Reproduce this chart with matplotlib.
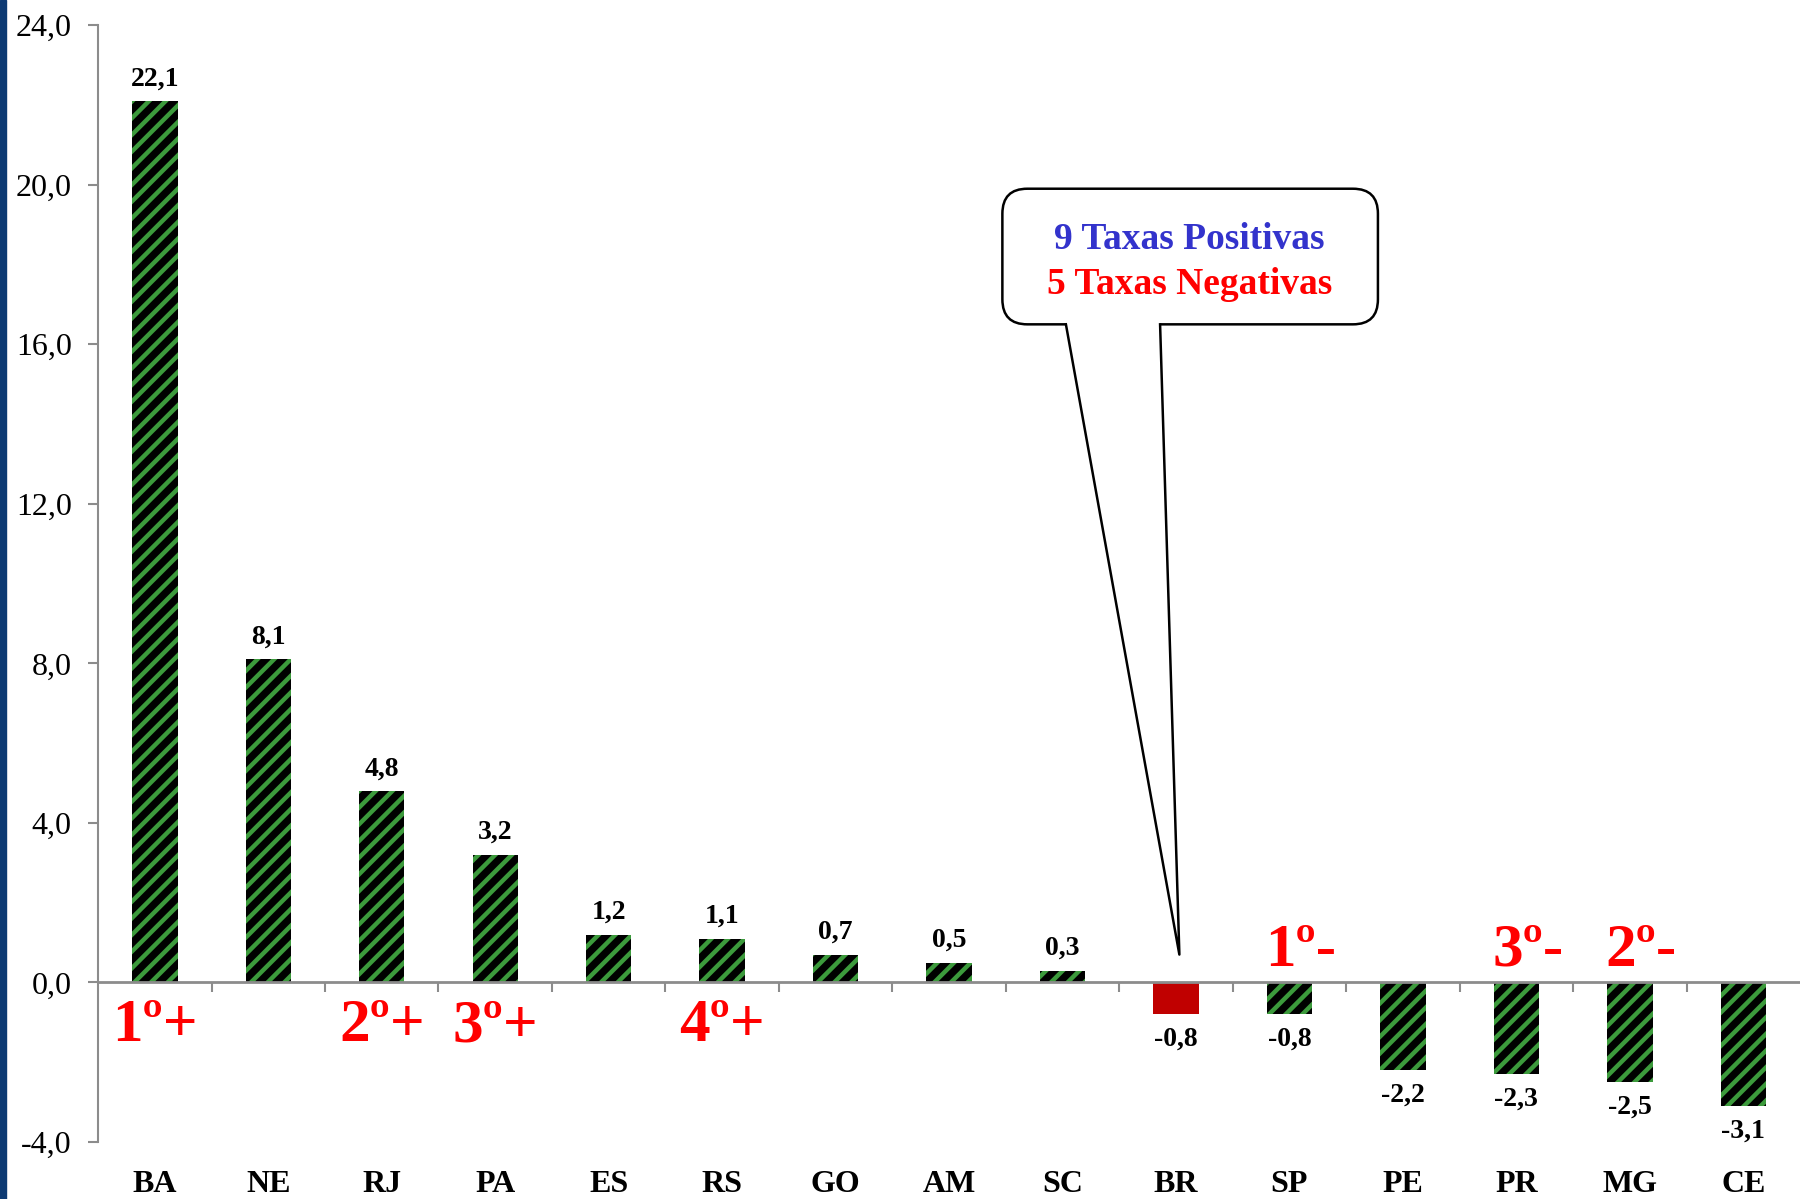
import matplotlib
matplotlib.use("Agg")
import matplotlib.pyplot as plt
from matplotlib.patches import FancyBboxPatch, Polygon, Rectangle
from matplotlib.transforms import blended_transform_factory

# data
estados = ["BA", "NE", "RJ", "PA", "ES", "RS", "GO", "AM", "SC", "BR", "SP", "PE", "PR", "MG", "CE"]
taxas = [22.1, 8.1, 4.8, 3.2, 1.2, 1.1, 0.7, 0.5, 0.3, -0.8, -0.8, -2.2, -2.3, -2.5, -3.1]
ranking = {"BA": "1º+", "RJ": "2º+", "PA": "3º+", "RS": "4º+",
           "SP": "1º-", "PR": "3º-", "MG": "2º-"}
yticks = [-4, 0, 4, 8, 12, 16, 20, 24]

plt.rcParams["font.family"] = ["Liberation Serif", "DejaVu Serif"]
plt.rcParams["hatch.linewidth"] = 3.2

verde = "#3c9a3c"
cinza = "#8c8c8c"

fig = plt.figure(figsize=(18, 11.99), dpi=100)
ax = fig.add_axes([0.0545, 0.0475, 0.9455, 0.9315])

x = list(range(len(estados)))
for i, (uf, v) in enumerate(zip(estados, taxas)):
    if uf == "BR":
        ax.bar(i, v, width=0.4, color="#c00000", linewidth=0, zorder=2)
    else:
        ax.bar(i, v, width=0.4, facecolor="black", edgecolor=verde,
               hatch="//", linewidth=0, zorder=2)
    txt = f"{v:.1f}".replace(".", ",")
    if v >= 0:
        ax.annotate(txt, (i, v), xytext=(0, 7), textcoords="offset points",
                    ha="center", va="bottom", fontsize=20, fontweight="bold")
    else:
        ax.annotate(txt, (i, v), xytext=(0, -9), textcoords="offset points",
                    ha="center", va="top", fontsize=20, fontweight="bold")

# ranking labels
for i, uf in enumerate(estados):
    if uf in ranking:
        lab = ranking[uf]
        yy = -1.1 if lab.endswith("+") else 0.8
        ax.text(i + (0.1 if lab.endswith("-") else 0), yy, lab, ha="center", va="center",
                fontsize=44, fontweight="bold", color="#ff0000")

# category labels at bottom
trans = blended_transform_factory(ax.transData, ax.transAxes)
for i, uf in enumerate(estados):
    ax.text(i, -0.038, uf, transform=trans, ha="center", va="center",
            fontsize=23, fontweight="bold")

ax.set_xlim(-0.5, len(estados) - 0.5)
ax.set_ylim(-4, 24)
ax.set_yticks(yticks)
ax.set_yticklabels([f"{t:.1f}".replace(".", ",") for t in yticks], fontsize=23)
ax.set_xticks([])
ax.set_xticks([i + 0.5 for i in x[:-1]], minor=True)
ax.tick_params(axis="x", which="minor", direction="out", length=7, width=1.5, color=cinza)
ax.tick_params(axis="y", direction="out", length=7, width=1.5, color=cinza, pad=12)

for s in ["top", "right"]:
    ax.spines[s].set_visible(False)
ax.spines["bottom"].set_position(("data", 0))
ax.spines["bottom"].set_color(cinza)
ax.spines["bottom"].set_linewidth(2)
ax.spines["left"].set_color(cinza)
ax.spines["left"].set_linewidth(1.5)

# callout
box = FancyBboxPatch((7.47, 16.5), 3.31, 3.4,
                     boxstyle="round,pad=0,rounding_size=0.22", mutation_aspect=2.85,
                     facecolor="white", edgecolor="black", linewidth=1.8, zorder=5)
ax.add_patch(box)
tip = (9.03, 0.7)
b1, b2 = (8.03, 16.5), (8.86, 16.5)
ax.add_patch(Polygon([(8.03, 16.6), b1, tip, b2, (8.86, 16.6)], closed=True,
                     facecolor="white", edgecolor="none", zorder=6))
ax.plot([b1[0], tip[0], b2[0]], [b1[1], tip[1], b2[1]], color="black", lw=1.8, zorder=7)
ax.text(9.12, 18.62, "9 Taxas Positivas", ha="center", va="center",
        fontsize=27, fontweight="bold", color="#3333cc", zorder=8)
ax.text(9.12, 17.5, "5 Taxas Negativas", ha="center", va="center",
        fontsize=27, fontweight="bold", color="#ff0000", zorder=8)

# left blue stripe
fig.patches.append(Rectangle((0, 0), 0.0035, 1, transform=fig.transFigure,
                             color="#0d3a73", zorder=0))

fig.savefig("out.png", dpi=100)
